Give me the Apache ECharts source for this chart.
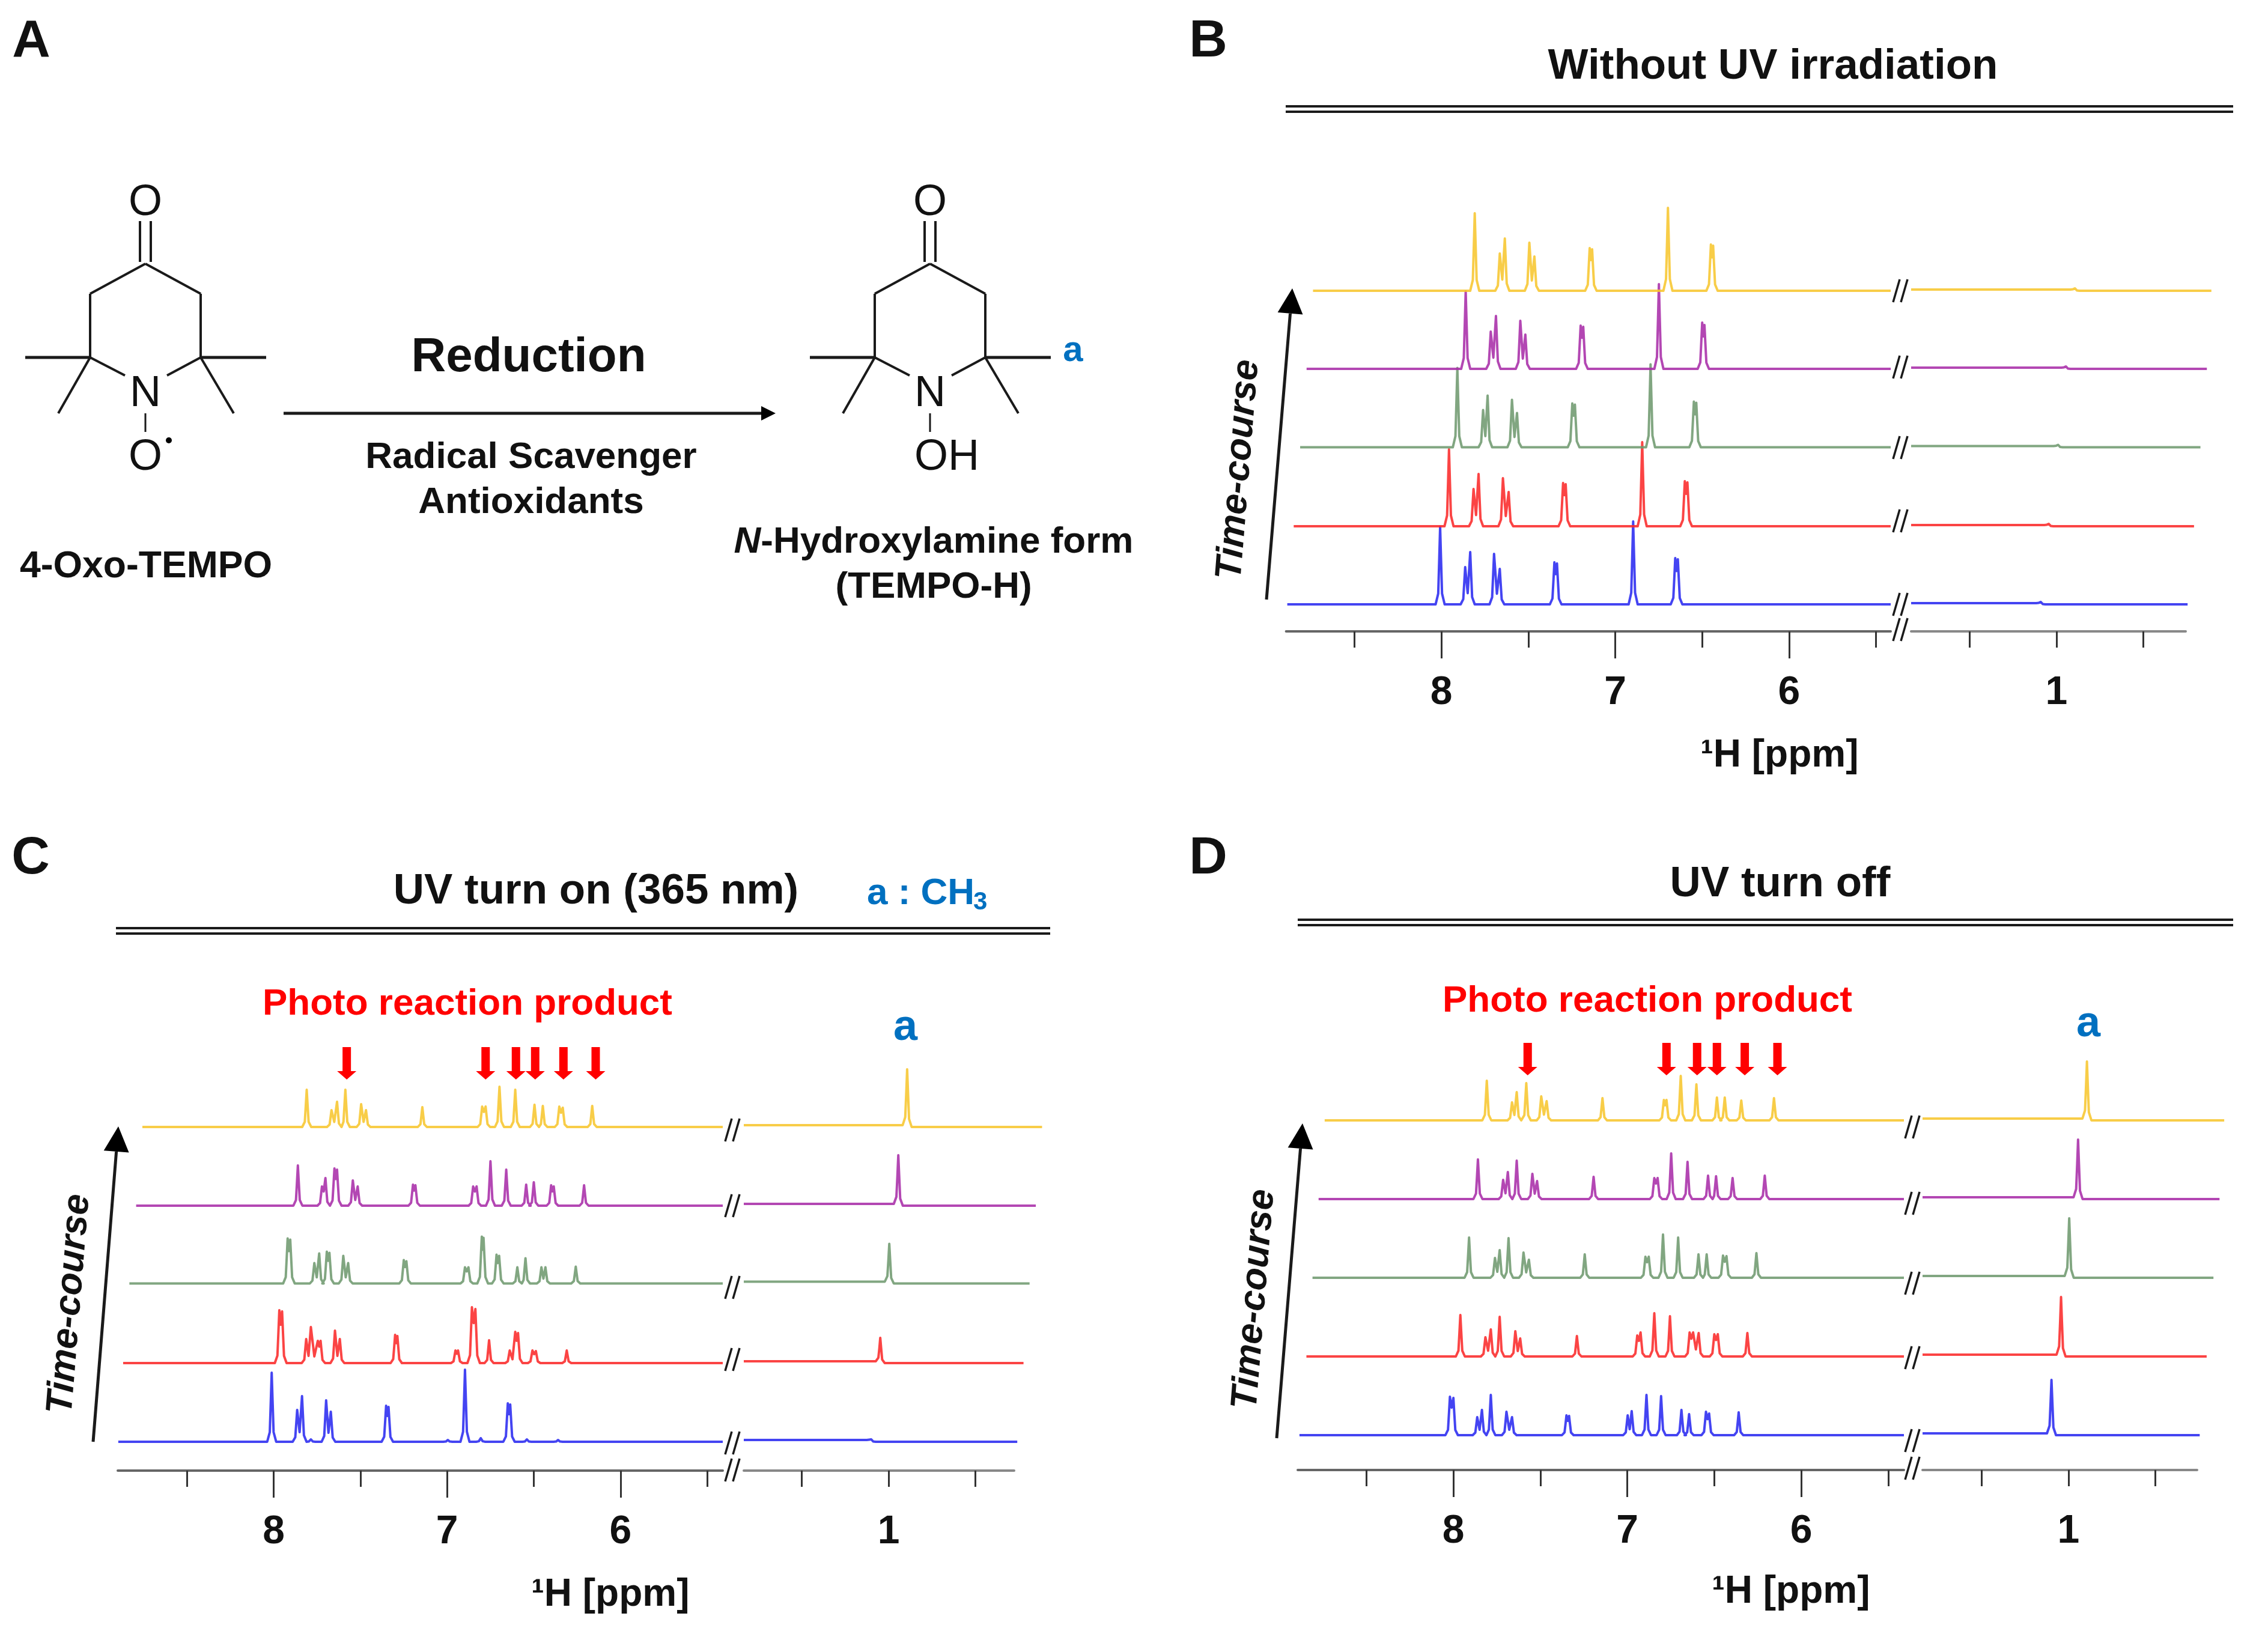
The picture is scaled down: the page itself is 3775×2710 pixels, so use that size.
<!DOCTYPE html>
<html><head><meta charset="utf-8">
<style>html,body{margin:0;padding:0;background:#fff}#c{width:3775px;height:2710px}</style>
<script src="https://cdn.jsdelivr.net/npm/echarts@6/dist/echarts.min.js"></script>
</head><body><div id="c"></div>
<script>
// Peaks: [axis ppm, height above the trace baseline]
const peaksB_blue   = [[8.007,129],[7.863,62],[7.834,87],[7.697,84],[7.664,59],[7.35,70],[7.335,68],[6.897,138],[6.655,77],[6.64,75]];
const peaksB_red    = [[7.956,128],[7.815,62],[7.786,87],[7.646,80],[7.613,57],[7.30,72],[7.285,70],[6.845,140],[6.60,75],[6.585,73]];
const peaksB_green  = [[7.908,132],[7.76,62],[7.734,86],[7.594,79],[7.565,57],[7.247,73],[7.232,71],[6.797,138],[6.548,76],[6.534,74]];
const peaksB_purple = [[7.86,129],[7.716,62],[7.686,88],[7.546,80],[7.517,57],[7.199,72],[7.184,70],[6.749,141],[6.50,77],[6.487,73]];
const peaksB_yellow = [[7.808,129],[7.664,62],[7.635,87],[7.494,80],[7.465,57],[7.147,71],[7.133,69],[6.697,138],[6.45,77],[6.437,75]];
const lowB = [[1.09,4],[1.044,4],[0.99,4],[0.945,4],[0.893,4]];

const peaksC_blue   = [[8.012,115],[7.865,53],[7.837,76],[7.786,4],[7.698,69],[7.671,50],[7.352,60],[7.338,58],[6.996,3],[6.897,120],[6.806,6],[6.65,64],[6.636,62],[6.54,4],[6.36,3]];
const peaksC_red    = [[7.968,88],[7.952,86],[7.813,40],[7.786,60],[7.746,37],[7.73,37],[7.647,54],[7.619,40],[7.30,47],[7.287,45],[6.952,21],[6.937,21],[6.857,93],[6.837,90],[6.758,38],[6.639,21],[6.607,52],[6.591,50],[6.508,21],[6.488,20],[6.31,21]];
const peaksC_green  = [[7.92,75],[7.905,73],[7.766,34],[7.738,50],[7.694,53],[7.679,51],[7.599,46],[7.571,34],[7.25,39],[7.235,37],[6.897,27],[6.877,27],[6.80,78],[6.79,76],[6.715,48],[6.70,46],[6.595,27],[6.548,42],[6.456,27],[6.433,27],[6.258,28]];
const peaksC_purple = [[7.861,67],[7.722,32],[7.702,46],[7.65,62],[7.635,60],[7.544,42],[7.516,32],[7.197,35],[7.183,34],[6.85,32],[6.83,32],[6.75,74],[6.659,60],[6.544,35],[6.50,39],[6.40,34],[6.385,32],[6.21,34]];
const peaksC_yellow = [[7.81,62],[7.667,28],[7.635,42],[7.587,62],[7.496,38],[7.468,28],[7.143,33],[6.798,34],[6.778,34],[6.698,67],[6.607,62],[6.496,37],[6.448,35],[6.353,34],[6.333,32],[6.163,35]];
const lowC = [[1.10,4],[1.048,42],[0.996,66],[0.944,84],[0.893,96]];

const peaksD_blue   = [[8.02,64],[8.00,62],[7.863,30],[7.836,42],[7.785,67],[7.695,39],[7.663,30],[7.35,33],[7.335,32],[6.998,33],[6.975,40],[6.89,67],[6.806,65],[6.689,42],[6.645,35],[6.548,39],[6.53,36],[6.36,38]];
const peaksD_red    = [[7.96,69],[7.816,32],[7.785,45],[7.734,66],[7.644,42],[7.616,30],[7.29,34],[6.943,35],[6.924,40],[6.845,72],[6.755,67],[6.642,40],[6.622,40],[6.59,39],[6.50,37],[6.48,37],[6.31,39]];
const peaksD_green  = [[7.91,67],[7.761,33],[7.734,46],[7.683,66],[7.597,42],[7.566,30],[7.245,39],[6.896,35],[6.877,35],[6.795,72],[6.708,67],[6.591,39],[6.544,39],[6.45,37],[6.43,36],[6.258,41]];
const peaksD_purple = [[7.859,66],[7.714,32],[7.687,45],[7.636,64],[7.546,42],[7.519,30],[7.194,37],[6.845,35],[6.826,35],[6.748,76],[6.654,62],[6.536,39],[6.49,38],[6.395,35],[6.21,39]];
const peaksD_yellow = [[7.808,66],[7.663,30],[7.636,47],[7.581,62],[7.495,40],[7.464,32],[7.143,37],[6.79,34],[6.775,34],[6.693,74],[6.603,60],[6.485,38],[6.44,38],[6.345,33],[6.157,37]];
const lowD = [[1.098,92],[1.043,99],[0.996,99],[0.945,99],[0.894,98]];

const arrowsC = [7.579,6.778,6.603,6.492,6.329,6.143];
const arrowsD = [7.573,6.775,6.599,6.485,6.325,6.137];

// height of each trace's baseline above the axis line
const stackB = [45,175,306.5,437,567];
const stackC = [48,179,311.5,441,572];
const stackD = [58,189,320,451,582];
// where each trace begins (left segment) and ends (right segment) on the axis
const startB = [8.886,8.849,8.812,8.775,8.738];
const startC = [8.897,8.869,8.833,8.794,8.758];
const startD = [8.885,8.845,8.81,8.775,8.74];
const endB = [0.244,0.207,0.17,0.133,0.107];
const endC = [0.258,0.222,0.187,0.151,0.115];
const endD = [0.245,0.205,0.166,0.131,0.104];

const traceColors = ['#2a2af0','#fa2a2a','#6f9a70','#a82ea8','#f7c62f'];
const majorTicks = [8,7,6];
const minorTicks = [8.5,7.5,6.5,5.5];
const lowTicks = [1.5,1,0.5];
const lowLabels = [1];
const WIDE_MIN = 0.05;

const FONT = '"Liberation Sans",Arial,sans-serif';
const panels = [
 {peaks:[peaksB_blue,peaksB_red,peaksB_green,peaksB_purple,peaksB_yellow],low:lowB,stack:stackB,start:startB,end:endB,arrows:null,
  axisY:1051,top:380,L:[2140.6,3147,8.893,5.416],R:[3181,3638,1.837,0.255],rise:2},
 {peaks:[peaksC_blue,peaksC_red,peaksC_green,peaksC_purple,peaksC_yellow],low:lowC,stack:stackC,start:startC,end:endC,arrows:arrowsC,arrowY:678,
  axisY:2448,top:1660,L:[196,1203,8.90,5.41],R:[1238,1688,1.835,0.276],rise:3},
 {peaks:[peaksD_blue,peaksD_red,peaksD_green,peaksD_purple,peaksD_yellow],low:lowD,stack:stackD,start:startD,end:endD,arrows:arrowsD,arrowY:684,
  axisY:2447,top:1660,L:[2160,3169,8.895,5.41],R:[3200,3657,1.84,0.26],rise:3}
];

// Turn a list of read peaks into the outline of a stick spectrum.
function outline(peaks,start,end,off,rise){
  const sorted=[...peaks].sort((a,b)=>b[0]-a[0]);
  const pts=[[start,off+rise]];
  sorted.forEach((p,i)=>{
    const prev=sorted[i-1],next=sorted[i+1];
    if(!prev||prev[0]-p[0]>=0.04){pts.push([p[0]+0.026,off+rise],[p[0]+0.011,off+rise+p[1]*0.14],[p[0]+0.005,off+p[1]*0.6]);}
    pts.push([p[0],off+p[1]]);
    if(next&&p[0]-next[0]<0.04){
      const gap=p[0]-next[0];
      pts.push([(p[0]+next[0])/2,off+Math.min(p[1],next[1])*(gap<0.022?0.74:0.3)]);
    }else{pts.push([p[0]-0.005,off+p[1]*0.6],[p[0]-0.011,off+p[1]*0.14],[p[0]-0.026,off]);}
  });
  pts.push([end,off]);
  return pts;
}

const grid=[],xAxis=[],yAxis=[],series=[];
panels.forEach(P=>{
  const H=P.axisY-P.top;
  const gi=grid.length;
  const rScale=(P.R[1]-P.R[0])/(P.R[2]-P.R[3]);
  grid.push({left:P.L[0],top:P.top,width:P.L[1]-P.L[0],height:H},
            {left:P.R[0],top:P.top,width:P.R[1]-P.R[0],height:H},
            {left:P.R[0],top:P.top,width:(P.R[2]-WIDE_MIN)*rScale,height:H});
  const lbl=(vals)=>({show:true,customValues:vals,fontSize:66,fontWeight:'bold',fontFamily:FONT,color:'#111',margin:70,verticalAlign:'top',hideOverlap:false,showMinLabel:true,showMaxLabel:true,formatter:v=>String(v)});
  const tk={color:'#333',width:3};
  const xi=xAxis.length;
  xAxis.push(
   {type:'value',gridIndex:gi,position:'bottom',inverse:true,min:P.L[3],max:P.L[2],splitLine:{show:false},axisLine:{show:true,onZero:false,lineStyle:{color:'#666',width:4}},
    axisTick:{show:true,customValues:majorTicks,length:45,lineStyle:tk},axisLabel:lbl(majorTicks)},
   {type:'value',gridIndex:gi,position:'bottom',inverse:true,min:P.L[3],max:P.L[2],splitLine:{show:false},axisLine:{show:false,onZero:false},
    axisTick:{show:true,customValues:minorTicks,length:27,lineStyle:tk},axisLabel:{show:false}},
   {type:'value',gridIndex:gi+1,position:'bottom',inverse:true,min:P.R[3],max:P.R[2],splitLine:{show:false},axisLine:{show:true,onZero:false,lineStyle:{color:'#888',width:4}},
    axisTick:{show:true,customValues:lowTicks,length:27,lineStyle:tk},axisLabel:lbl(lowLabels)},
   {type:'value',gridIndex:gi+2,position:'bottom',inverse:true,min:WIDE_MIN,max:P.R[2],show:false,splitLine:{show:false}}
  );
  const yi=yAxis.length;
  const ya=g=>({type:'value',gridIndex:g,min:0,max:H,show:false,splitLine:{show:false}});
  yAxis.push(ya(gi),ya(gi+1),ya(gi+2));
  P.peaks.forEach((pk,k)=>{
    const common={type:'line',showSymbol:false,symbol:'none',silent:true,animation:false,clip:false,z:2+k,
      lineStyle:{color:traceColors[k],width:4,opacity:.88,join:'round'}};
    series.push({...common,xAxisIndex:xi,yAxisIndex:yi,data:outline(pk,P.start[k],P.L[3],P.stack[k],0)});
    series.push({...common,xAxisIndex:xi+3,yAxisIndex:yi+2,data:outline([P.low[k]],P.R[2],P.end[k],P.stack[k],P.rise)});
  });
  if(P.arrows){
    series.push({type:'scatter',silent:true,animation:false,xAxisIndex:xi,yAxisIndex:yi,z:10,
      symbol:'path://M9,0 H23 V37 H32 L16,50 L0,37 H9 Z',symbolSize:[32,54],itemStyle:{color:'#ff0000',opacity:1},
      data:P.arrows.map(v=>[v,P.arrowY])});
  }
});

// Text and drawn annotation
const el=[];
function T(x,y,s,size,o){o=o||{};el.push({type:'text',x,y,rotation:o.rot||0,z:20,silent:true,style:{text:s,fontSize:size,fontWeight:o.w||'bold',fontStyle:o.st||'normal',fontFamily:FONT,fill:o.c||'#111',align:o.a||'center',verticalAlign:'middle',rich:o.rich}});}
function L(x1,y1,x2,y2,w,c){el.push({type:'line',z:15,silent:true,shape:{x1,y1,x2,y2},style:{stroke:c||'#1a1a1a',lineWidth:w||4}});}
function ARW(x1,y1,x2,y2,hw,hl,w){
  const a=Math.atan2(y2-y1,x2-x1),bx=x2-hl*Math.cos(a),by=y2-hl*Math.sin(a),nx=-Math.sin(a),ny=Math.cos(a);
  L(x1,y1,bx,by,w);
  el.push({type:'polygon',z:15,silent:true,shape:{points:[[x2,y2],[bx+nx*hw,by+ny*hw],[bx-nx*hw,by-ny*hw]]},style:{fill:'#000'}});
}
function BRK(x,y){L(x-12,y+19,x-1,y-19,3.5);L(x+1,y+19,x+12,y-19,3.5);}

T(52,70,'A',88);T(2011,70,'B',88);T(51,1430,'C',88);T(2011,1430,'D',88);
T(2951,111,'Without UV irradiation',71);
T(992,1484,'UV turn on (365 nm)',71);
T(2963,1472,'UV turn off',71);
T(1443,1488,'a : CH',62,{a:'left',c:'#0070c0'});
T(1620,1502,'3',42,{a:'left',c:'#0070c0'});
[[2140,3717,177],[193,1748,1545],[2160,3717,1531]].forEach(r=>{L(r[0],r[2],r[1],r[2],4);L(r[0],r[2]+9,r[1],r[2]+9,4);});

T(2962,1258,'¹H [ppm]',64);T(1016,2655,'¹H [ppm]',64);T(2981,2650,'¹H [ppm]',64);
T(2062,782,'Time-course',62,{rot:85.4*Math.PI/180,st:'italic'});
T(116,2171,'Time-course',62,{rot:85.4*Math.PI/180,st:'italic'});
T(2088,2163,'Time-course',62,{rot:85.4*Math.PI/180,st:'italic'});
ARW(2108,998,2151,480,21,42,5);
ARW(155,2400,197,1875,21,42,5);
ARW(2125,2394,2168,1870,21,42,5);
T(778,1672,'Photo reaction product',62,{c:'#ff0000'});
T(2742,1667,'Photo reaction product',62,{c:'#ff0000'});
T(1507,1711,'a',72,{c:'#0070c0'});
T(3476,1705,'a',72,{c:'#0070c0'});

[484,611,745,867,1006,1048].forEach(y=>BRK(3163,y));
[1881,2007,2143,2263,2402,2447].forEach(y=>BRK(1219,y));
[1876,2003,2136,2260,2398,2444].forEach(y=>BRK(3183,y));

// molecules
function mol(dx,hydroxyl){
  L(233+dx,368,233+dx,436,4);L(251+dx,368,251+dx,436,4);
  L(242+dx,439,150+dx,489,4);L(242+dx,439,334+dx,489,4);
  L(150+dx,489,150+dx,595,4);L(334+dx,489,334+dx,595,4);
  L(150+dx,595,208+dx,625,4);L(334+dx,595,278+dx,625,4);
  L(42+dx,595,150+dx,595,5);L(334+dx,595,443+dx,595,5);
  L(97+dx,688,150+dx,595,4);L(389+dx,688,334+dx,595,4);
  L(242+dx,688,242+dx,719,3);
  T(242+dx,338,'O',72,{w:'normal'});
  T(242+dx,656,'N',72,{w:'normal'});
  if(hydroxyl){T(242+dx-26,762,'OH',72,{w:'normal',a:'left'});}
  else{T(242+dx,762,'O',72,{w:'normal'});el.push({type:'circle',z:20,silent:true,shape:{cx:281+dx,cy:733,r:5},style:{fill:'#000'}});}
}
mol(0,false);mol(1306,true);
T(1786,584,'a',60,{c:'#0070c0'});
ARW(472,688,1291,688,12,24,5);
T(880,596,'Reduction',80);
T(884,762,'Radical Scavenger',62);
T(884,837,'Antioxidants',62);
T(243,944,'4-Oxo-TEMPO',62.5);
T(1554,903,'{i|N}{b|-Hydroxylamine form}',62,{rich:{i:{fontStyle:'italic',fontWeight:'bold',fontSize:62,fontFamily:FONT,fill:'#111'},b:{fontWeight:'bold',fontSize:62,fontFamily:FONT,fill:'#111'}}});
T(1554,978,'(TEMPO-H)',62);

const chart=echarts.init(document.getElementById('c'),null,{renderer:'canvas',width:3775,height:2710,devicePixelRatio:1});
chart.setOption({backgroundColor:'#fff',animation:false,grid,xAxis,yAxis,series,graphic:{elements:el}});
</script></body></html>
